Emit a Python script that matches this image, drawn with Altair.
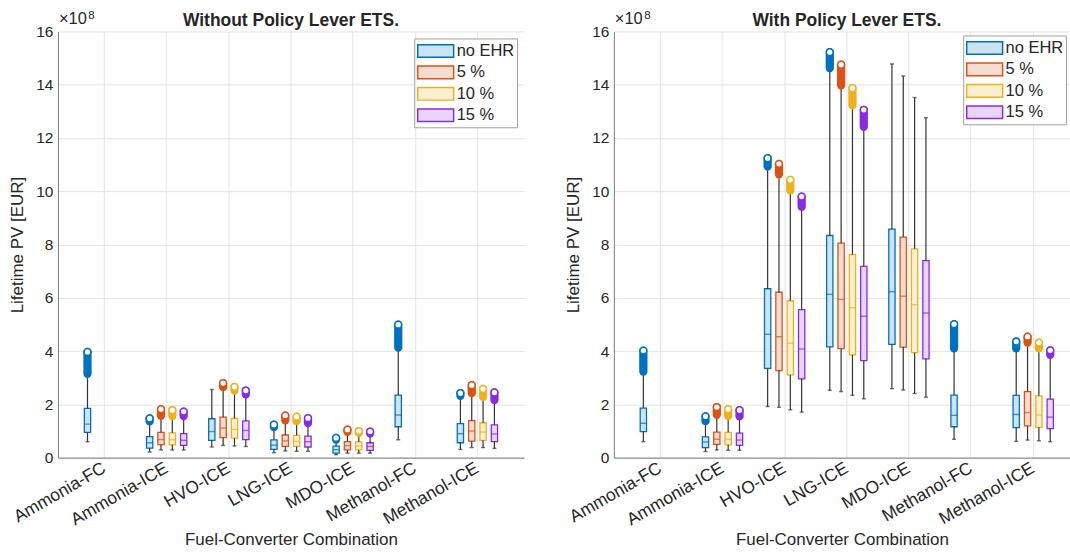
import altair as alt
import pandas as pd

FONT = "Liberation Sans"
TEXT = "#262626"
GRID = "#E3E3E3"
AXIS_LINE = "#7A7A7A"
WHISKER = "#333333"

FUELS = ["Ammonia-FC", "Ammonia-ICE", "HVO-ICE", "LNG-ICE", "MDO-ICE",
         "Methanol-FC", "Methanol-ICE"]
LEVELS = ["no EHR", "5 %", "10 %", "15 %"]
LINE_COLORS = ["#0072BD", "#D95319", "#EDB120", "#8A2BE2"]
FILL_COLORS = ["#CCE3F2", "#F7DDD1", "#FBEFD2", "#E8D5F9"]

# Lifetime PV in units of 1e8 EUR; one row per fuel, one column per EHR level.
# None = combination not simulated.
# ---- without the ETS policy lever ----
NO_ETS_WLO = [[0.60, None, None, None], [0.21, 0.29, 0.29, 0.29], [0.40, 0.46, 0.44, 0.42],
              [0.19, 0.25, 0.24, 0.24], [0.11, 0.17, 0.17, 0.17], [0.67, None, None, None],
              [0.31, 0.38, 0.38, 0.35]]
NO_ETS_Q1 = [[0.95, None, None, None], [0.36, 0.49, 0.48, 0.46], [0.65, 0.75, 0.73, 0.68],
             [0.31, 0.42, 0.42, 0.40], [0.17, 0.29, 0.29, 0.27], [1.16, None, None, None],
             [0.56, 0.62, 0.65, 0.60]]
NO_ETS_MED = [[1.26, None, None, None], [0.56, 0.68, 0.67, 0.65], [0.98, 1.11, 1.06, 1.02],
              [0.47, 0.63, 0.61, 0.60], [0.30, 0.45, 0.44, 0.42], [1.60, None, None, None],
              [0.90, 1.00, 0.96, 0.89]]
NO_ETS_Q3 = [[1.85, None, None, None], [0.79, 0.95, 0.93, 0.90], [1.46, 1.52, 1.47, 1.38],
             [0.67, 0.85, 0.84, 0.81], [0.43, 0.60, 0.59, 0.56], [2.35, None, None, None],
             [1.28, 1.39, 1.31, 1.23]]
NO_ETS_WHI = [[3.08, None, None, None], [1.28, 1.49, 1.48, 1.47], [2.56, 2.57, 2.44, 2.30],
              [1.08, 1.32, 1.30, 1.22], [0.60, 0.90, 0.86, 0.84], [4.05, None, None, None],
              [2.24, 2.34, 2.20, 2.08]]
NO_ETS_OUT_LO = [[3.15, None, None, None], [1.36, 1.57, 1.56, 1.56], [None, 2.65, 2.52, 2.38],
                 [1.15, 1.40, 1.37, 1.30], [0.68, 0.97, 0.93, 0.91], [4.13, None, None, None],
                 [2.32, 2.42, 2.28, 2.16]]
NO_ETS_OUT_HI = [[3.97, None, None, None], [1.47, 1.82, 1.78, 1.73], [None, 2.80, 2.66, 2.52],
                 [1.24, 1.58, 1.54, 1.48], [0.74, 1.05, 1.00, 0.98], [4.99, None, None, None],
                 [2.42, 2.72, 2.58, 2.45]]

# ---- with the ETS policy lever ----
ETS_WLO = [[0.60, None, None, None], [0.23, 0.29, 0.28, 0.28], [1.92, 1.89, 1.80, 1.71],
           [2.53, 2.48, 2.34, 2.21], [2.59, 2.54, 2.41, 2.27], [0.69, None, None, None],
           [0.61, 0.66, 0.63, 0.60]]
ETS_Q1 = [[0.98, None, None, None], [0.38, 0.50, 0.48, 0.46], [3.35, 3.27, 3.11, 2.96],
          [4.16, 4.09, 3.86, 3.64], [4.25, 4.15, 3.94, 3.71], [1.16, None, None, None],
          [1.13, 1.19, 1.14, 1.09]]
ETS_MED = [[1.29, None, None, None], [0.59, 0.69, 0.69, 0.66], [4.63, 4.54, 4.30, 4.08],
           [6.13, 5.94, 5.63, 5.31], [6.23, 6.06, 5.74, 5.43], [1.59, None, None, None],
           [1.62, 1.69, 1.60, 1.52]]
ETS_Q3 = [[1.86, None, None, None], [0.78, 0.96, 0.95, 0.92], [6.34, 6.21, 5.89, 5.56],
          [8.34, 8.05, 7.62, 7.18], [8.58, 8.28, 7.84, 7.40], [2.35, None, None, None],
          [2.34, 2.48, 2.32, 2.20]]
ETS_WHI = [[3.15, None, None, None], [1.30, 1.52, 1.48, 1.47], [10.82, 10.55, 9.95, 9.35],
           [14.50, 13.90, 13.15, 12.35], [14.78, 14.33, 13.52, 12.76], [4.02, None, None, None],
           [4.00, 4.26, 4.03, 3.78]]
ETS_OUT_LO = [[3.23, None, None, None], [1.37, 1.61, 1.56, 1.55], [10.94, 10.64, 10.04, 9.42],
              [14.63, 13.98, 13.23, 12.42], [None, None, None, None], [4.10, None, None, None],
              [4.10, 4.32, 4.10, 3.86]]
ETS_OUT_HI = [[4.02, None, None, None], [1.55, 1.90, 1.82, 1.78], [11.24, 11.03, 10.43, 9.80],
              [15.22, 14.75, 13.87, 13.06], [None, None, None, None], [5.01, None, None, None],
              [4.36, 4.54, 4.32, 4.03]]


def build_frame(wlo, q1, med, q3, whi, out_lo, out_hi):
    rows = []
    for i, fuel in enumerate(FUELS):
        for j, level in enumerate(LEVELS):
            if med[i][j] is None:
                continue
            rows.append({"fuel": fuel, "level": level, "wlo": wlo[i][j], "q1": q1[i][j],
                         "med": med[i][j], "q3": q3[i][j], "whi": whi[i][j],
                         "out_lo": out_lo[i][j], "out_hi": out_hi[i][j]})
    return pd.DataFrame(rows)


PANEL_H = 427
BOX_W = 6.3

x_axis = alt.Axis(grid=True, gridColor=GRID, bandPosition=0.5, ticks=False,
                  domainColor=AXIS_LINE, labelAngle=-30, labelAlign="right",
                  labelBaseline="middle", labelPadding=9, labelFontSize=17.5,
                  labelColor=TEXT, titleFontSize=17, titleColor=TEXT,
                  titleFontWeight="normal", titlePadding=3)
y_axis = alt.Axis(values=list(range(0, 17, 2)), format="d", grid=True, gridColor=GRID,
                  ticks=False, domainColor=AXIS_LINE, labelFontSize=15.5, labelColor=TEXT,
                  labelPadding=5, titleFontSize=17, titleColor=TEXT,
                  titleFontWeight="normal", titlePadding=9)
y_scale = alt.Scale(domain=[0, 16], nice=False)
fill_scale = alt.Scale(domain=LEVELS, range=FILL_COLORS)
line_scale = alt.Scale(domain=LEVELS, range=LINE_COLORS)


def make_legend(offset):
    # wide swatch: the path runs from -1 to 3 units so it starts at the entry's left edge
    return alt.Legend(title=None, orient="top-right", offset=offset,
                      symbolType="M-1,-0.7H3V0.7H-1Z", symbolSize=324,
                      symbolStrokeWidth=1.5, labelFont=FONT, labelFontSize=16.5,
                      labelColor=TEXT, labelOffset=20, padding=2.5, rowPadding=1.5,
                      strokeColor="#A0A0A0", fillColor="white", cornerRadius=0)


def Y(field):
    return alt.Y(field, scale=y_scale, axis=y_axis, title="Lifetime PV [EUR]")


def panel(df, title, width, pad_outer, align, legend_offset):
    outl = df.dropna(subset=["out_lo"])
    legend = make_legend(legend_offset)
    x_enc = alt.X("fuel:N",
                  scale=alt.Scale(domain=FUELS, paddingInner=0, paddingOuter=pad_outer,
                                  align=align),
                  axis=x_axis, title="Fuel-Converter Combination")
    # four slots per fuel; the band of each slot is the box width
    xo_enc = alt.XOffset("level:N",
                         scale=alt.Scale(domain=LEVELS, paddingInner=0.445,
                                         paddingOuter=0.963))
    base = alt.Chart(df).encode(x=x_enc, xOffset=xo_enc)
    out_base = alt.Chart(outl).encode(x=x_enc, xOffset=xo_enc)
    line_color = alt.Color("level:N", scale=line_scale, legend=None)

    box = base.mark_bar(strokeWidth=1.3).encode(
        y=Y("q1:Q"), y2="q3:Q",
        fill=alt.Fill("level:N", scale=fill_scale, legend=legend),
        stroke=alt.Stroke("level:N", scale=line_scale, legend=legend))
    median = base.mark_tick(size=BOX_W, thickness=1.4).encode(y=Y("med:Q"), color=line_color)
    lower = base.mark_rule(color=WHISKER, strokeWidth=1.2).encode(y=Y("wlo:Q"), y2="q1:Q")
    upper = base.mark_rule(color=WHISKER, strokeWidth=1.2).encode(y=Y("q3:Q"), y2="whi:Q")
    cap_lo = base.mark_tick(color=WHISKER, size=4, thickness=1.4).encode(y=Y("wlo:Q"))
    cap_hi = base.mark_tick(color=WHISKER, size=4, thickness=1.4).encode(y=Y("whi:Q"))
    cluster = out_base.mark_rule(strokeWidth=8.3, strokeCap="round").encode(
        y=Y("out_lo:Q"), y2="out_hi:Q", color=line_color)
    ring = out_base.mark_point(shape="circle", fill="white", fillOpacity=1, opacity=1,
                               size=46, strokeWidth=1.5).encode(y=Y("out_hi:Q"),
                                                                color=line_color)

    txt = pd.DataFrame({"title": [title], "base": ["\u00d710"], "exp": ["8"]})
    heading = alt.Chart(txt).mark_text(font=FONT, color=TEXT, fontSize=17.5,
                                       fontWeight="bold", align="center",
                                       baseline="alphabetic").encode(
        x=alt.value(233.5), y=alt.value(-5), text="title:N")
    times10 = alt.Chart(txt).mark_text(font=FONT, color=TEXT, fontSize=16.5, align="left",
                                       baseline="alphabetic").encode(
        x=alt.value(1), y=alt.value(-7), text="base:N")
    power = alt.Chart(txt).mark_text(font=FONT, color=TEXT, fontSize=11.5, align="left",
                                     baseline="alphabetic").encode(
        x=alt.value(30.5), y=alt.value(-12), text="exp:N")

    return alt.layer(box, median, lower, upper, cap_lo, cap_hi, cluster, ring,
                     heading, times10, power).properties(width=width, height=PANEL_H)


left = panel(build_frame(NO_ETS_WLO, NO_ETS_Q1, NO_ETS_MED, NO_ETS_Q3, NO_ETS_WHI,
                         NO_ETS_OUT_LO, NO_ETS_OUT_HI), "Without Policy Lever ETS.",
             467, 0.25, 0.5, 7)
# the right-hand axes run to the page edge: same category step, less room after the last one
right = panel(build_frame(ETS_WLO, ETS_Q1, ETS_MED, ETS_Q3, ETS_WHI,
                          ETS_OUT_LO, ETS_OUT_HI), "With Policy Lever ETS.",
              457, 0.17, 0.73, 4)

chart = alt.hconcat(left, right, spacing=40).resolve_scale(
    fill="independent", stroke="independent", color="independent", xOffset="independent"
).resolve_legend(
    fill="independent", stroke="independent"
).properties(
    padding={"left": 8, "top": 10, "right": 0, "bottom": 0}
).configure(font=FONT).configure_view(strokeWidth=0).configure_axis(
    labelFont=FONT, titleFont=FONT)

chart.save("out.html", embed_options={"renderer": "svg", "actions": False})
